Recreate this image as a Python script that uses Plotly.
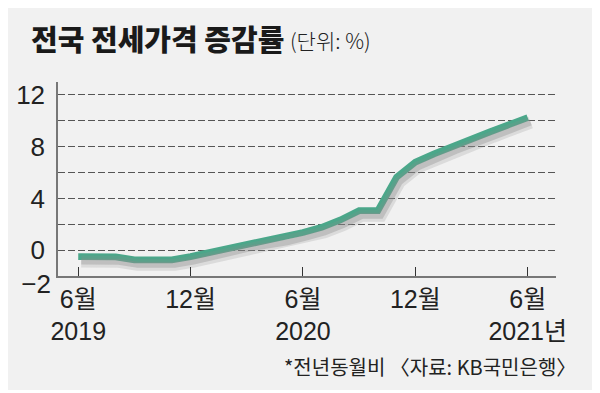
import plotly.graph_objects as go

# ---- data ----
months = ["2019-06", "2019-07", "2019-08", "2019-09", "2019-10", "2019-11", "2019-12",
          "2020-01", "2020-02", "2020-03", "2020-04", "2020-05", "2020-06", "2020-07",
          "2020-08", "2020-09", "2020-10", "2020-11", "2020-12",
          "2021-01", "2021-02", "2021-03", "2021-04", "2021-05", "2021-06"]
change_pct = [-0.5, -0.5, -0.52, -0.75, -0.75, -0.75, -0.5,
              -0.2, 0.18, 0.52, 0.74, 0.99, 1.36, 1.76,
              2.33, 3.05, 3.05, 5.64, 6.8,
              7.45, 8.05, 8.6, 9.15, 9.7, 10.25]
x_tick_vals = ["2019-06", "2019-12", "2020-06", "2020-12", "2021-06"]
x_tick_text = ["6월<br>2019", "12월", "6월<br>2020", "12월", "6월<br>2021년"]
y_tick_vals = [0, 2, 4, 6, 8, 10, 12]
y_tick_text = ["0", "", "4", "", "8", "", "12"]
y_min_val = [-2]
y_min_text = ["\u22122"]

title_text = "전국 전세가격 증감률"
unit_text = "(단위: %)"
note_text = "*전년동월비 〈자료: KB국민은행〉"

# ---- layout geometry (page pixels; the page body adds an 8px offset) ----
W, H = 600, 393
OFF = 8
PX0, PX1 = 58, 556      # plot area left/right on the page
PY0, PY1 = 82, 276      # plot area top/bottom on the page
ML, MR = PX0 - OFF, W - (PX1 - OFF)
MT, MB = PY0 - OFF, H - (PY1 - OFF)
PW, PH = PX1 - PX0, PY1 - PY0
XR = [-1.08, 25.51]
YR = [-2, 13]


def px_x(p):
    return (p - PX0) / PW


def px_y(p):
    return (PY1 - p) / PH


# shadow offset (pixels -> axis units)
sdx = 3 / (PW / (XR[1] - XR[0]))
sdy = 5 / (PH / (YR[1] - YR[0]))

LAT = "Liberation Sans, Arial, Noto Sans CJK KR, sans-serif"
CJK = "Noto Sans CJK KR, sans-serif"
LINE_COLOR = "#4ba78a"
TICKFONT_Y = dict(family=LAT, size=26, color="#222222")

fig = go.Figure()

# soft shadow under the line
fig.add_trace(go.Scatter(x=months, y=change_pct, xaxis="x2", yaxis="y2", mode="lines",
                         line=dict(color="rgba(140,140,140,0.22)", width=12),
                         hoverinfo="skip", showlegend=False))
fig.add_trace(go.Scatter(x=months, y=change_pct, xaxis="x2", yaxis="y2", mode="lines",
                         line=dict(color="rgba(140,140,140,0.35)", width=6),
                         hoverinfo="skip", showlegend=False))
# carrier for the separate "-2" label axis (invisible)
fig.add_trace(go.Scatter(x=months, y=change_pct, yaxis="y3", mode="lines",
                         line=dict(color="rgba(0,0,0,0)", width=0),
                         hoverinfo="skip", showlegend=False))
# main line
fig.add_trace(go.Scatter(x=months, y=change_pct, mode="lines",
                         line=dict(color=LINE_COLOR, width=6.8),
                         showlegend=False))

fig.update_layout(
    width=W, height=H,
    margin=dict(l=ML, r=MR, t=MT, b=MB, pad=0),
    paper_bgcolor="white",
    plot_bgcolor="rgba(0,0,0,0)",
    xaxis=dict(type="category", categoryorder="array", categoryarray=months,
               range=XR, tickmode="array", tickvals=x_tick_vals, ticktext=x_tick_text,
               showgrid=False, zeroline=False, automargin=False,
               showline=True, linecolor="#777777", linewidth=1.5,
               ticks="inside", ticklen=9, tickwidth=1.2, tickcolor="#333333",
               tickfont=dict(family=LAT, size=25, color="#222222")),
    yaxis=dict(range=YR, tickmode="array", tickvals=y_tick_vals, ticktext=y_tick_text,
               showgrid=True, gridcolor="#555555", gridwidth=1, griddash="7px,3px",
               zeroline=False, showline=True, linecolor="#777777", linewidth=1.5,
               ticks="", ticklabelstandoff=6, automargin=False,
               tickfont=TICKFONT_Y),
    yaxis3=dict(range=YR, overlaying="y", side="left", tickmode="array",
                tickvals=y_min_val, ticktext=y_min_text, showgrid=False, zeroline=False,
                showline=False, ticks="", ticklabelstandoff=6, ticklabelshift=8,
                automargin=False, tickfont=TICKFONT_Y),
    xaxis2=dict(type="category", categoryorder="array", categoryarray=months,
                range=[XR[0] - sdx, XR[1] - sdx], overlaying="x", visible=False),
    yaxis2=dict(range=[YR[0] + sdy, YR[1] + sdy], overlaying="y", visible=False),
    shapes=[dict(type="rect", xref="paper", yref="paper", layer="below",
                 x0=px_x(OFF), x1=px_x(595), y0=px_y(390), y1=px_y(OFF),
                 fillcolor="#f1f1f1", line=dict(width=0))],
    annotations=[
        dict(text=title_text, xref="paper", yref="paper",
             x=px_x(29), y=px_y(38), xanchor="left", yanchor="middle", showarrow=False,
             font=dict(family=CJK, size=29, color="#1a1a1a", weight=900)),
        dict(text=unit_text, xref="paper", yref="paper",
             x=px_x(288), y=px_y(40), xanchor="left", yanchor="middle", showarrow=False,
             font=dict(family=CJK, size=21, color="#222222", weight=300)),
        dict(text=note_text, xref="paper", yref="paper",
             x=px_x(578), y=px_y(366), xanchor="right", yanchor="middle", showarrow=False,
             font=dict(family=CJK, size=20, color="#222222")),
    ],
)

fig.write_html("out.html")
